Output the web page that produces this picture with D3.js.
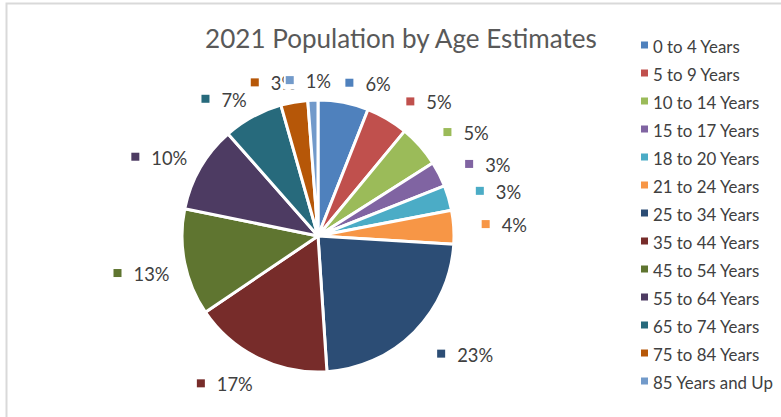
<!DOCTYPE html>
<html><head><meta charset="utf-8">
<script src="https://cdn.jsdelivr.net/npm/d3@7"></script>
<style>body{margin:0;background:#fff}svg{display:block}</style>
</head><body>
<svg id="c" width="781" height="417"></svg>
<script>
const title = "2021 Population by Age Estimates";
const categories = ["0 to 4 Years","5 to 9 Years","10 to 14 Years","15 to 17 Years","18 to 20 Years","21 to 24 Years","25 to 34 Years","35 to 44 Years","45 to 54 Years","55 to 64 Years","65 to 74 Years","75 to 84 Years","85 Years and Up"];
const values = [6,5,5,3,3,4,23,16.6,12.7,10.3,7.1,3.2,1.2];
const colors = ["#4F81BD","#C0504D","#9BBB59","#8064A2","#4BACC6","#F79646","#2C4D75","#772C2A","#5F7530","#4D3B62","#276A7C","#B65708","#729ACA"];

const svg = d3.select("#c");
const font = "Lato, 'Open Sans', sans-serif";

// frame
svg.append("rect").attr("x",6.5).attr("y",3.5).attr("width",800).attr("height",450)
  .attr("fill","none").attr("stroke","#d9d9d9").attr("stroke-width",2);

// title
const t = svg.append("text").attr("x",401).attr("y",48).attr("text-anchor","middle")
  .attr("font-family",font).attr("font-size",24).attr("fill","#595959").text(title);
const tw = t.node().getComputedTextLength();
t.attr("font-size", 24*392/tw);

const cx = 318, cy = 236, R = 136;
const g = svg.append("g").attr("transform",`translate(${cx},${cy})`);
const pie = d3.pie().sort(null).value(d=>d);
const arcs = pie(values);
const arc = d3.arc().innerRadius(0).outerRadius(R);
g.selectAll("path").data(arcs).join("path")
  .attr("d",arc).attr("fill",(d,i)=>colors[i])
  .attr("stroke","#fff").attr("stroke-width",3).attr("stroke-linejoin","round");

// data labels (outside end)
const fmt = d3.format(".0%");
const total = d3.sum(values);
const probe = svg.append("text").attr("font-family",font).attr("font-size",17).text("23%");
const lfs = 17*36/probe.node().getComputedTextLength();
probe.remove();
const lr = 154, lh = 17, msz = 8, gap = 12;
const clamp = v=>Math.max(-1,Math.min(1,v));
const clamp01 = v=>Math.max(0,Math.min(1,v));
const lg = svg.append("g");
arcs.forEach((d,i)=>{
  const a = (d.startAngle+d.endAngle)/2;
  const s = Math.sin(a), c = Math.cos(a);
  const grp = lg.append("g");
  const bg = grp.append("rect").attr("fill","#fff");
  const txt = grp.append("text").attr("font-family",font).attr("font-size",lfs)
    .attr("fill","#404040").attr("dominant-baseline","central").text(fmt(values[i]/total));
  const tw = txt.node().getComputedTextLength();
  const w = msz + gap + tw;
  const xoff = s > 0 ? 10*clamp01((s-0.19)*4) : 2.5*clamp01(-s*5);
  const yoff = c < 0 ? 9*Math.min(1,-c*4) : -2;
  const bx = cx + lr*s + (w/2)*clamp(5*s) - w/2 + xoff;
  const by = cy - lr*c + yoff;
  bg.attr("x",bx-2).attr("y",by-lh/2-1).attr("width",w+4).attr("height",lh+2);
  grp.append("rect").attr("x",bx).attr("y",by-msz/2).attr("width",msz).attr("height",msz).attr("fill",colors[i]);
  txt.attr("x",bx+msz+gap).attr("y",by+1);
});

// legend
const leg = svg.append("g");
const rows = leg.selectAll("g").data(categories).join("g")
  .attr("transform",(d,i)=>`translate(641,${45+i*28})`);
rows.append("rect").attr("x",0).attr("y",-3.5).attr("width",7).attr("height",7).attr("fill",(d,i)=>colors[i]);
const lt = rows.append("text").attr("x",12).attr("y",1).attr("dominant-baseline","central")
  .attr("font-family",font).attr("font-size",15).attr("fill","#404040").text(d=>d);
const lw = lt.nodes()[12].getComputedTextLength();
lt.attr("font-size",15*120/lw);
</script>
</body></html>
